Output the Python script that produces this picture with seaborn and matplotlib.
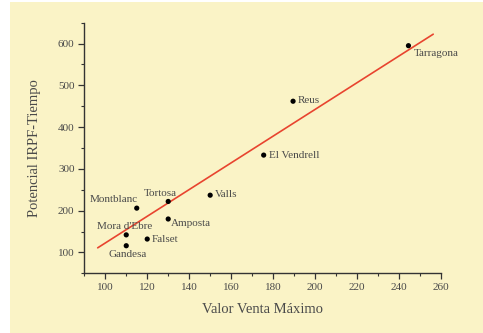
import matplotlib
matplotlib.use("Agg")
import matplotlib.pyplot as plt
from matplotlib.patches import Rectangle
from matplotlib.ticker import MultipleLocator
import seaborn as sns
import pandas as pd

# data
towns = ["Tarragona", "Reus", "El Vendrell", "Valls", "Tortosa",
         "Montblanc", "Amposta", "Falset", "Mora d'Ebre", "Gandesa"]
valor_venta = [244.5, 189.5, 175.5, 150, 130, 115, 130, 120, 110, 110]
potencial = [595, 462, 333, 237, 222, 206, 180, 132, 142, 116]

# fitted line as drawn in the picture
fit_x = [96.4, 256.3]
fit_y = [111, 622.5]

# label offsets (points) and alignment
label_dx = [3.6, 3.2, 3.6, 3.3, -5.8, 1.0, 2.0, 3.2, -1.4, 1.2]
label_dy = [-5.8, 0.7, -0.5, 0.7, 5.8, 6.3, -3.4, -0.2, 5.8, -6.2]
label_ha = ["left", "left", "left", "left", "center", "right",
            "left", "left", "center", "center"]

df = pd.DataFrame({"town": towns, "x": valor_venta, "y": potencial})

cream = "#faf3c6"
txt = "#4a4a4a"
sns.set_theme(style="ticks")
plt.rcParams["font.family"] = ["Liberation Serif", "DejaVu Serif"]

fig = plt.figure(figsize=(4.83, 3.33), dpi=100, facecolor="white")
# cream page behind the chart, white strip on the left
fig.patches.append(Rectangle((10 / 483, 0), 1, 1 - 2 / 333, transform=fig.transFigure,
                             facecolor=cream, edgecolor="none", zorder=-10))
ax = fig.add_axes([0.1745, 0.1793, 0.9130 - 0.1745, 0.9318 - 0.1793])
ax.set_facecolor(cream)

sns.lineplot(x=fit_x, y=fit_y, ax=ax, color="#e8442f", linewidth=1.2)
sns.scatterplot(data=df, x="x", y="y", ax=ax, color="black", s=14,
                edgecolor="none", zorder=3)

for i, row in df.iterrows():
    ax.annotate(row["town"], (row["x"], row["y"]),
                xytext=(label_dx[i], label_dy[i]), textcoords="offset points",
                ha=label_ha[i], va="center", fontsize=8, color=txt)

ax.set_xlim(90, 260)
ax.set_ylim(50, 650)
ax.xaxis.set_major_locator(MultipleLocator(20))
ax.xaxis.set_minor_locator(MultipleLocator(10))
ax.yaxis.set_minor_locator(MultipleLocator(50))
ax.set_yticks([100, 200, 300, 400, 500, 600])

sns.despine(ax=ax)
for s in ["left", "bottom"]:
    ax.spines[s].set_color("#333333")
    ax.spines[s].set_linewidth(1.0)
ax.tick_params(which="major", direction="out", length=4, width=0.9,
               color="#333333", labelsize=8, labelcolor=txt, pad=3)
ax.tick_params(which="minor", direction="out", length=2, width=0.8, color="#333333")

ax.set_xlabel("Valor Venta Máximo", fontsize=10.5, color=txt, labelpad=8)
ax.set_ylabel("Potencial IRPF-Tiempo", fontsize=10.5, color=txt, labelpad=12)

fig.savefig("out.png", dpi=100, facecolor="white")
